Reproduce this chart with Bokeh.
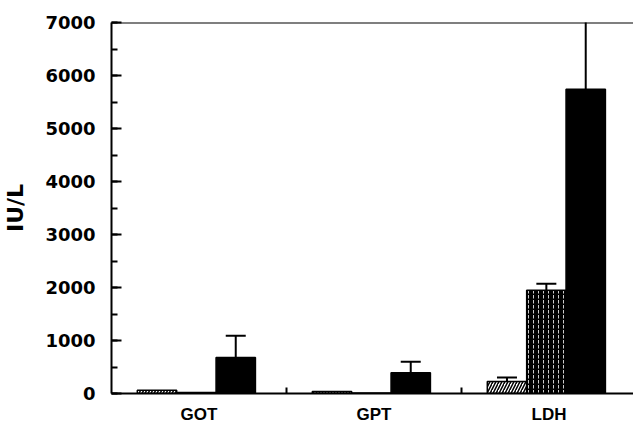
from bokeh.plotting import figure
from bokeh.models import (ColumnDataSource, Range1d, SingleIntervalTicker, FixedTicker,
                          Whisker, TeeHead, Span)
from bokeh.embed import file_html
from bokeh.resources import INLINE

# ---- data ----
categories = ["GOT", "GPT", "LDH"]
series_a = [60, 40, 225]        # hatched
series_a_sd = [0, 0, 75]
series_b = [20, 10, 1950]       # stippled
series_b_sd = [0, 0, 120]
series_c = [680, 390, 5740]     # solid black
series_c_sd = [410, 210, 1350]
y_ticks_interval = 1000

# ---- styling / positions ----
offsets = [-0.24, -0.015, 0.21]
bar_w = 0.225

p = figure(width=633, height=426, output_backend="svg", toolbar_location=None,
           x_range=Range1d(0, 2.983), y_range=Range1d(0, 7000),
           min_border_left=111, min_border_right=0, min_border_top=22,
           min_border_bottom=32, title=None)
p.outline_line_color = None
p.xgrid.visible = False
p.ygrid.visible = False
p.background_fill_color = "white"

def xs(off):
    return [i + 0.5 + off for i in range(len(categories))]

src_a = ColumnDataSource(dict(x=xs(offsets[0]), top=series_a))
src_b = ColumnDataSource(dict(x=xs(offsets[1]), top=series_b))
src_c = ColumnDataSource(dict(x=xs(offsets[2]), top=series_c))

p.vbar(x="x", top="top", width=bar_w, source=src_a, fill_color="white",
       line_color="black", line_width=1.5, hatch_pattern="right_diagonal_line",
       hatch_color="black", hatch_scale=6, hatch_weight=1.5)
p.vbar(x="x", top="top", width=bar_w, source=src_b, fill_color="black",
       line_color="black", line_width=1.5, hatch_pattern="vertical_dash",
       hatch_color="white", hatch_scale=5, hatch_weight=0.8)
p.vbar(x="x", top="top", width=bar_w, source=src_c, fill_color="black",
       line_color="black", line_width=1.5)

wx, wl, wu = [], [], []
for off, vals, sds in [(offsets[0], series_a, series_a_sd),
                       (offsets[1], series_b, series_b_sd),
                       (offsets[2], series_c, series_c_sd)]:
    for i, (v, s) in enumerate(zip(vals, sds)):
        if s > 0:
            wx.append(i + 0.5 + off)
            wl.append(v)
            wu.append(v + s)
wsrc = ColumnDataSource(dict(x=wx, lower=wl, upper=wu))
p.add_layout(Whisker(source=wsrc, base="x", lower="lower", upper="upper",
                     dimension="height", line_color="black", line_width=2,
                     upper_head=TeeHead(size=20, line_width=2, line_color="black"),
                     lower_head=None))

p.add_layout(Span(location=7000, dimension="width", line_color="black", line_width=2))

# y axis
ya = p.yaxis[0]
ya.ticker = SingleIntervalTicker(interval=y_ticks_interval, num_minor_ticks=2)
ya.axis_line_width = 2
ya.major_tick_in = 10
ya.major_tick_out = 0
ya.minor_tick_in = 6
ya.minor_tick_out = 0
ya.major_tick_line_width = 2
ya.minor_tick_line_width = 2
ya.major_label_text_font = "DejaVu Sans"
ya.major_label_text_font_style = "bold"
ya.major_label_text_font_size = "18px"
ya.major_label_text_color = "black"
ya.major_label_standoff = 16
ya.axis_label = "IU/L"
ya.axis_label_text_font = "DejaVu Sans"
ya.axis_label_text_font_style = "bold"
ya.axis_label_text_font_size = "22px"
ya.axis_label_text_color = "black"
ya.axis_label_standoff = 14

# x axis: boundary ticks, category names centred in each group
xa = p.xaxis[0]
xa.ticker = FixedTicker(ticks=[i + 0.5 for i in range(len(categories))],
                        minor_ticks=[i for i in range(1, len(categories))])
xa.major_label_overrides = {i + 0.5: c for i, c in enumerate(categories)}
xa.axis_line_width = 2
xa.major_tick_in = 0
xa.major_tick_out = 0
xa.minor_tick_in = 6
xa.minor_tick_out = 0
xa.minor_tick_line_width = 2
xa.major_label_text_font = "Liberation Sans"
xa.major_label_text_font_style = "bold"
xa.major_label_text_font_size = "17px"
xa.major_label_text_color = "black"
xa.major_label_standoff = 11

open("out.html", "w").write(file_html(p, INLINE))
